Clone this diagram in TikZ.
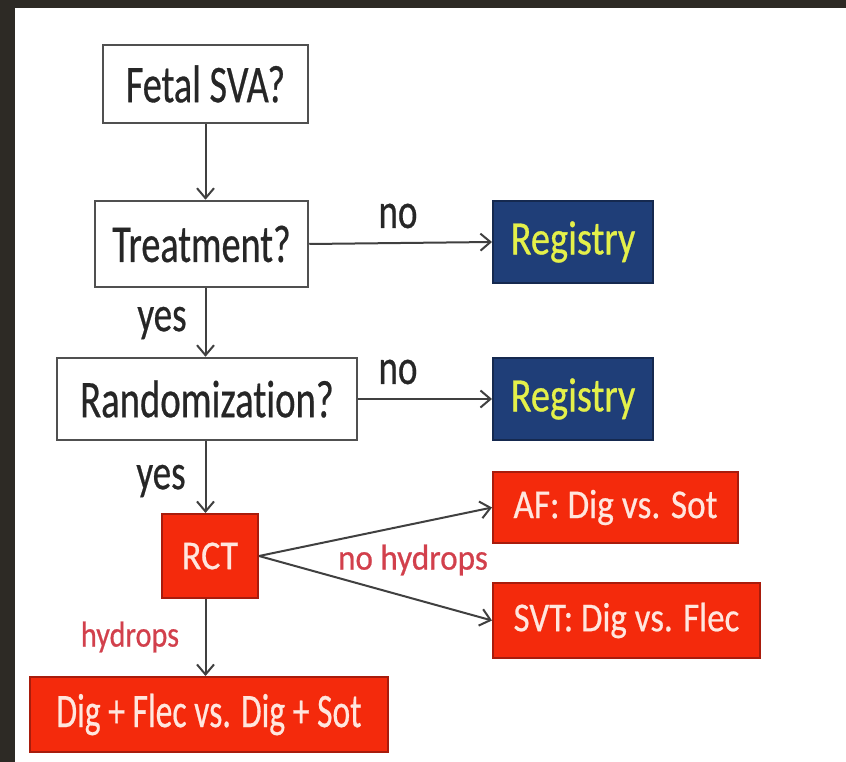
\documentclass[tikz,border=0pt]{standalone}
\usepackage{graphicx}
\usepackage{fontspec}
\setmainfont{Carlito}[Ligatures=NoCommon, FakeBold=0.6]
\usetikzlibrary{arrows.meta}
\definecolor{bandc}{HTML}{2D2A25}
\definecolor{linec}{HTML}{404040}
\definecolor{boxline}{HTML}{505050}
\definecolor{redfill}{HTML}{F42A0C}
\definecolor{redline}{HTML}{A81C0C}
\definecolor{redtext}{HTML}{FFE6DE}
\definecolor{bluefill}{HTML}{1F3E78}
\definecolor{blueline}{HTML}{15294F}
\definecolor{yeltext}{HTML}{E4F04A}
\definecolor{labred}{HTML}{D2404C}
\newcommand{\sq}[2]{\scalebox{#1}[1]{#2}}
\newcommand{\fs}[1]{\fontsize{#1}{#1}\selectfont}
\tikzset{
  whitebox/.style={draw=boxline, line width=2.5pt, fill=white, inner sep=0pt, font=\fs{53}, text=black!85},
  bluebox/.style={draw=blueline, line width=2pt, fill=bluefill, inner sep=0pt, font=\fs{48}, text=yeltext},
  redbox/.style={draw=redline, line width=2pt, fill=redfill, inner sep=0pt, font=\fs{41}, text=redtext},
  arr/.style={draw=linec, line width=2pt, -{Straight Barb[length=10pt,width=17pt,line width=2pt]}},
  lab/.style={font=\fs{50}, text=black!85, inner sep=0pt},
  redlab/.style={text=labred, inner sep=0pt, font=\fs{36}}
}
\begin{document}
\begin{tikzpicture}[x=1pt,y=-1pt]
\useasboundingbox (0,0) rectangle (846,762);
\fill[white] (0,0) rectangle (846,762);
\fill[bandc] (0,0) rectangle (846,8);
\fill[bandc] (0,0) rectangle (15,762);

\node[whitebox, minimum width=205pt, minimum height=78pt] (fetal) at (205.5,84) {\sq{0.72}{Fetal SVA?}};
\node[whitebox, minimum width=213pt, minimum height=86pt] (treat) at (201.5,244) {\sq{0.72}{Treatment?}};
\node[bluebox, minimum width=160pt, minimum height=82pt] (reg1) at (573,242) {\sq{0.8}{Registry}};
\node[whitebox, minimum width=300pt, minimum height=82pt] (rand) at (207,399) {\sq{0.73}{Randomization?}};
\node[bluebox, minimum width=160pt, minimum height=82pt] (reg2) at (573,399) {\sq{0.8}{Registry}};
\node[redbox, minimum width=96pt, minimum height=84pt] (rct) at (210,556) {\sq{0.88}{RCT}};
\node[redbox, minimum width=245pt, minimum height=71pt] (af) at (615.5,507.5) {\sq{0.86}{AF: Dig vs. Sot}};
\node[redbox, minimum width=267pt, minimum height=75pt] (svt) at (626.5,620.5) {\sq{0.85}{SVT: Dig vs. Flec}};
\node[redbox, minimum width=358pt, minimum height=75pt, font=\fs{48}] (bot) at (209,714.5) {\sq{0.7}{Dig + Flec vs. Dig + Sot}};

\draw[arr] (fetal.south) -- (fetal.south |- treat.north);
\draw[arr] (fetal.south |- treat.south) -- (fetal.south |- rand.north);
\draw[arr] (fetal.south |- rand.south) -- (fetal.south |- rct.north);
\draw[arr] (fetal.south |- rct.south) -- (fetal.south |- bot.north);
\draw[arr] (treat.east) -- (reg1.west);
\draw[arr] (rand.east) -- (reg2.west);
\draw[arr] (rct.east) -- (af.west);
\draw[arr] (rct.east) -- (svt.west);

\node[lab] (no1) at (398,216) {\sq{0.74}{no}};
\node[lab] (no2) at (398,372) {\sq{0.74}{no}};
\node[lab] (yes1) at (162,323) {\sq{0.74}{yes}};
\node[lab] (yes2) at (161,481) {\sq{0.74}{yes}};
\node[redlab] (nohyd) at (413,560) {\sq{0.92}{no hydrops}};
\node[redlab] (hyd) at (130,637) {\sq{0.84}{hydrops}};
\end{tikzpicture}
\end{document}
